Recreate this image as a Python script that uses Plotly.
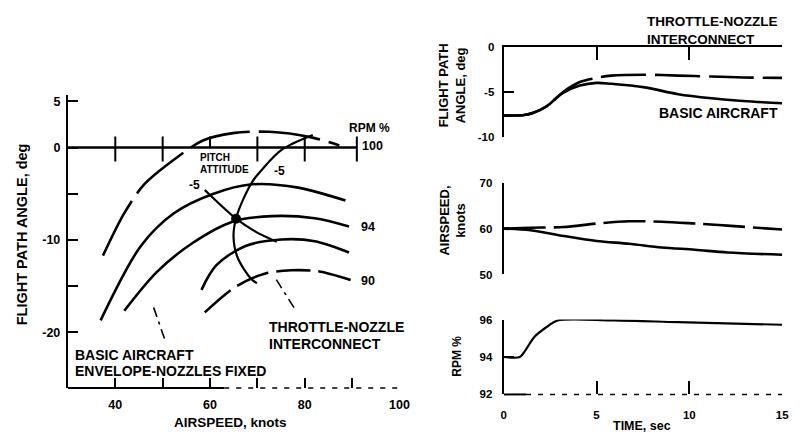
import plotly.graph_objects as go

W, H = 801, 441

# ---------------- Left chart: flight path angle vs airspeed ----------------
env_top_speed = [37.4, 41.9, 46.1, 52.3, 58.5, 64.8, 72.4, 81.4, 87.3]
env_top_angle = [-11.7, -7.1, -4.0, -1.35, 0.76, 1.56, 1.7, 1.1, 0.23]
rpm_hi_speed = [36.9, 45.4, 52.3, 60.6, 68.9, 78.6, 88.6]
rpm_hi_angle = [-18.7, -10.65, -7.14, -5.03, -3.98, -4.34, -5.74]
rpm94_speed = [41.9, 48.8, 56.4, 64.75, 73.1, 82.1, 89.35]
rpm94_angle = [-17.66, -13.45, -10.3, -8.02, -7.42, -7.66, -8.55]
rpm_lo_speed = [58.2, 61.3, 67.5, 75.1, 82.1, 89.35]
rpm_lo_angle = [-15.4, -12.76, -10.65, -9.95, -10.13, -11.35]
rpm90_speed = [58.9, 65.5, 71.7, 77.2, 82.8, 89.7]
rpm90_angle = [-17.84, -15.03, -13.63, -13.28, -13.39, -14.34]
pitch1_speed = [58.9, 65.5, 69.6, 74.1]
pitch1_angle = [-4.6, -7.7, -9.1, -10.2]
pitch2_speed = [81.7, 75.1, 70.65, 69.3, 67.2, 65.5, 64.96, 65.8, 68.6, 69.9]
pitch2_angle = [1.35, -0.26, -2.58, -3.42, -5.39, -7.66, -9.6, -11.87, -14.16, -14.68]
trim_speed = [65.5]
trim_angle = [-7.7]
leader_basic_speed = [48.1, 50.6]
leader_basic_angle = [-17.3, -21.0]
leader_tni_speed = [74.0, 78.2]
leader_tni_angle = [-14.3, -17.7]
zero_line_ticks = [40, 50, 70, 80]
zero_line_end = 91
left_x_ticks = [40, 50, 60, 70, 80, 90, 100]
left_x_labels = ["40", "", "60", "", "80", "", "100"]
left_y_ticks = [5, 0, -5, -10, -15, -20]
left_y_labels = ["5", "0", "", "-10", "", "-20"]

# ---------------- Right charts: time histories ----------------
time_gamma = [0, 0.5, 1.1, 1.6, 2.3, 3.2, 4.1, 5.0, 5.8, 7.6, 9.4, 11.2, 12.9, 15]
gamma_basic = [-7.6, -7.6, -7.55, -7.3, -6.6, -5.1, -4.3, -4.0, -4.1, -4.5, -5.25, -5.7, -6.0, -6.25]
gamma_tni = [-7.6, -7.6, -7.55, -7.3, -6.6, -5.0, -3.9, -3.45, -3.2, -3.1, -3.2, -3.3, -3.4, -3.45]

time_speed = [0, 1.45, 3.23, 5.0, 6.75, 8.5, 10.3, 12.05, 15]
speed_basic = [60, 59.65, 58.4, 57.3, 56.7, 55.9, 55.4, 54.8, 54.3]
speed_tni = [60, 60.2, 60.35, 61.1, 61.6, 61.5, 61.1, 60.65, 59.8]

time_rpm = [0, 0.87, 1.13, 1.66, 2.37, 2.9, 5.9, 9.4, 15]
rpm_pct = [94.0, 94.0, 94.3, 95.08, 95.64, 95.95, 95.95, 95.86, 95.72]

FONT = "Liberation Sans"


def curve(x, y, xa, ya, dash="solid", width=2.6, smooth=0.9):
    return go.Scatter(x=x, y=y, xaxis=xa, yaxis=ya, mode="lines",
                      line=dict(color="black", width=width, dash=dash,
                                shape="spline", smoothing=smooth),
                      hoverinfo="skip", showlegend=False)


fig = go.Figure()
# left chart
fig.add_trace(curve(env_top_speed, env_top_angle, "x", "y", dash="62px,9px"))
fig.add_trace(curve(rpm_hi_speed, rpm_hi_angle, "x", "y"))
fig.add_trace(curve(rpm94_speed, rpm94_angle, "x", "y"))
fig.add_trace(curve(rpm_lo_speed, rpm_lo_angle, "x", "y"))
fig.add_trace(curve(rpm90_speed, rpm90_angle, "x", "y", dash="34px,8px"))
fig.add_trace(curve(pitch1_speed, pitch1_angle, "x", "y", width=2.2))
fig.add_trace(curve(pitch2_speed, pitch2_angle, "x", "y", width=2.2))
fig.add_trace(go.Scatter(x=trim_speed, y=trim_angle, xaxis="x", yaxis="y", mode="markers",
                         marker=dict(color="black", size=10), hoverinfo="skip", showlegend=False))
fig.add_trace(curve(leader_basic_speed, leader_basic_angle, "x", "y", dash="10px,5px,3px,5px", width=1.6))
fig.add_trace(curve(leader_tni_speed, leader_tni_angle, "x", "y", dash="10px,5px,3px,5px", width=1.6))

# right charts
fig.add_trace(curve(time_gamma, gamma_basic, "x2", "y2"))
fig.add_trace(curve(time_gamma, gamma_tni, "x2", "y2", dash="45px,9px"))
fig.add_trace(curve(time_speed, speed_basic, "x3", "y3"))
fig.add_trace(curve(time_speed, speed_tni, "x3", "y3", dash="42px,8px"))
fig.add_trace(curve(time_rpm, rpm_pct, "x4", "y4", width=2.2))

# zero line with crossing ticks on left chart
shapes = []
shapes.append(dict(type="line", xref="x", yref="y", x0=30, x1=zero_line_end, y0=0, y1=0,
                   line=dict(color="black", width=2.4)))
for t in zero_line_ticks + [zero_line_end]:
    shapes.append(dict(type="line", xref="x", yref="y", x0=t, x1=t, y0=1.2, y1=-1.5,
                       line=dict(color="black", width=2)))
shapes.append(dict(type="line", xref="x", yref="y", x0=60, x1=60, y0=0, y1=1.2,
                   line=dict(color="black", width=2)))
# bottom axis of left chart (partly faded in the scan)
shapes.append(dict(type="line", xref="x", yref="y domain", x0=30, x1=63, y0=0, y1=0,
                   line=dict(color="black", width=2)))
shapes.append(dict(type="line", xref="x", yref="y domain", x0=63, x1=100, y0=0, y1=0,
                   line=dict(color="black", width=1.6, dash="5px,7px")))
# bottom axis of RPM chart
shapes.append(dict(type="line", xref="x4", yref="y4 domain", x0=0, x1=1.2, y0=0, y1=0,
                   line=dict(color="black", width=2)))
shapes.append(dict(type="line", xref="x4", yref="y4 domain", x0=1.2, x1=15, y0=0, y1=0,
                   line=dict(color="black", width=1.6, dash="5px,7px")))


def dom_x(a, b):
    return [a / W, b / W]


def dom_y(top, bottom):
    return [1 - bottom / H, 1 - top / H]


tickfont = dict(family=FONT, size=12.5, color="black", weight="bold")
tickfont_r = dict(family=FONT, size=11.5, color="black", weight="bold")
base = dict(showgrid=False, zeroline=False, linecolor="black", tickcolor="black", fixedrange=True)

fig.update_layout(
    width=W, height=H, autosize=False,
    margin=dict(l=0, r=0, t=0, b=0),
    paper_bgcolor="white", plot_bgcolor="rgba(0,0,0,0)",
    showlegend=False,
    shapes=shapes,
    xaxis=dict(base, domain=dom_x(66, 403), range=[30, 100], anchor="y", showline=False,
               ticks="inside", tickvals=left_x_ticks, ticktext=left_x_labels,
               ticklen=10, tickwidth=2, tickfont=tickfont, ticklabelstandoff=7),
    yaxis=dict(base, domain=dom_y(92, 392.7), range=[-26.02, 5.63], anchor="x", showline=True,
               linewidth=2.2, ticks="inside", tickvals=left_y_ticks, ticktext=left_y_labels,
               ticklen=10, tickwidth=2, tickfont=tickfont, ticklabelstandoff=3),
    xaxis2=dict(base, domain=dom_x(509, 792), range=[0, 15], anchor="y2", side="top",
                showline=True, linewidth=2.2, ticks="inside", tickvals=[5, 10], ticklen=13,
                tickwidth=2, showticklabels=False),
    yaxis2=dict(base, domain=dom_y(41.7, 135), range=[-10, 0], anchor="x2", showline=True,
                linewidth=2.2, ticks="inside", tickvals=[0, -5, -10], ticktext=["0", "-5", "-10"],
                ticklen=10, tickwidth=2, tickfont=tickfont_r, ticklabelstandoff=5),
    xaxis3=dict(base, domain=dom_x(509, 792), range=[0, 15], anchor="y3", visible=False),
    yaxis3=dict(base, domain=dom_y(181.7, 276), range=[50, 70], anchor="x3", showline=True,
                linewidth=2.2, ticks="inside", tickvals=[70, 60, 50], ticktext=["70", "60", "50"],
                ticklen=11, tickwidth=2, tickfont=tickfont_r, ticklabelstandoff=7),
    xaxis4=dict(base, domain=dom_x(509, 792), range=[0, 15], anchor="y4", showline=False,
                ticks="inside", tickvals=[0, 5, 10, 15], ticktext=["0", "5", "10", "15"],
                ticklen=13, tickwidth=2, tickfont=tickfont_r, ticklabelstandoff=12),
    yaxis4=dict(base, domain=dom_y(322.3, 399.3), range=[92, 96], anchor="x4", showline=True,
                linewidth=2.2, ticks="inside", tickvals=[96, 94, 92], ticktext=["96", "94", "92"],
                ticklen=10, tickwidth=2, tickfont=tickfont_r, ticklabelstandoff=7),
)


def note(text, px, py, size=12, xanchor="left", angle=0, align="left"):
    fig.add_annotation(text=text, x=px / W, y=1 - py / H, xref="paper", yref="paper",
                       xanchor=xanchor, yanchor="middle", showarrow=False, textangle=angle,
                       align=align, borderpad=0,
                       font=dict(family=FONT, size=size, color="black", weight="bold"))


# left chart texts
note("FLIGHT PATH ANGLE, deg", 19, 235, size=14.5, xanchor="center", angle=-90)
note("AIRSPEED, knots", 231, 428, size=13.5, xanchor="center")
note("BASIC AIRCRAFT", 72, 359, size=14)
note("ENVELOPE-NOZZLES FIXED", 72, 375, size=14)
note("THROTTLE-NOZZLE", 269, 330, size=14)
note("INTERCONNECT", 269, 347, size=14)
note("PITCH", 199, 156, size=10)
note("ATTITUDE", 199, 168, size=10)
note("-5", 195, 184, size=12, xanchor="center")
note("-5", 281, 170, size=12, xanchor="center")
note("RPM %", 373, 125, size=12, xanchor="center")
note("100", 376, 144, size=12.5, xanchor="center")
note("94", 371, 227, size=12.5, xanchor="center")
note("90", 371, 283, size=12.5, xanchor="center")

# right chart texts
note("THROTTLE-NOZZLE<br>INTERCONNECT", 654, 25, size=13.5)
note("BASIC AIRCRAFT", 666, 110, size=14)
note("FLIGHT PATH<br>ANGLE, deg", 456, 82, size=13, xanchor="center", angle=-90, align="center")
note("AIRSPEED,<br>knots", 457, 221, size=13, xanchor="center", angle=-90, align="center")
note("RPM %", 462, 360, size=12, xanchor="center", angle=-90)
note("TIME, sec", 650, 432, size=12.5, xanchor="center")

fig.write_html("out.html")
